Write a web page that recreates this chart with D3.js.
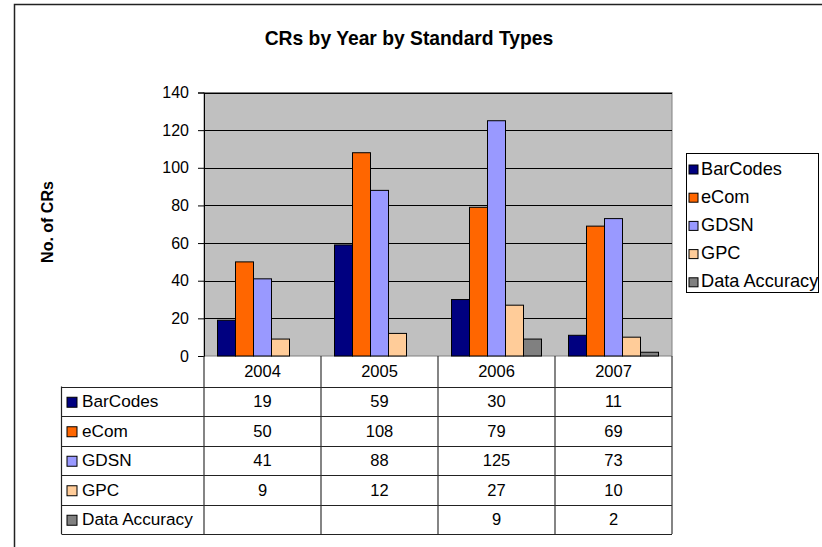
<!DOCTYPE html>
<html>
<head>
<meta charset="utf-8">
<script src="https://cdn.jsdelivr.net/npm/d3@7/dist/d3.min.js"></script>
<style>
  body { margin: 0; background: #fff; }
  svg { display: block; font-family: "Liberation Sans", Arial, sans-serif; }
</style>
</head>
<body>
<div id="chart"></div>
<script>
// Data
const years = ["2004", "2005", "2006", "2007"];
const seriesNames = ["BarCodes", "eCom", "GDSN", "GPC", "Data Accuracy"];
const barCodes = [19, 59, 30, 11];
const eCom = [50, 108, 79, 69];
const gdsn = [41, 88, 125, 73];
const gpc = [9, 12, 27, 10];
const dataAccuracy = [null, null, 9, 2];
const yTicks = [0, 20, 40, 60, 80, 100, 120, 140];
const seriesColors = ["#000080", "#FF6600", "#9999FF", "#FFCC99", "#808080"];

const seriesValues = [barCodes, eCom, gdsn, gpc, dataAccuracy];

const width = 822, height = 547;
const fontSize = 16.5;
const svg = d3.select("#chart").append("svg")
  .attr("width", width)
  .attr("height", height);

// chart border (outer frame)
svg.append("rect")
  .attr("x", 14.5).attr("y", 4.5)
  .attr("width", 830).attr("height", 560)
  .attr("fill", "#fff")
  .attr("stroke", "#222")
  .attr("stroke-width", 1.5);

// title
svg.append("text")
  .attr("x", 409).attr("y", 45)
  .attr("text-anchor", "middle")
  .attr("font-size", 19.3)
  .attr("font-weight", "bold")
  .text("CRs by Year by Standard Types");

// plot area
const plot = { left: 204, right: 672, top: 92.5, bottom: 356 };

const x0 = d3.scaleBand().domain(years).range([plot.left, plot.right]);
const x1 = d3.scaleBand().domain(seriesNames).range([0, x0.bandwidth()])
  .paddingInner(0).paddingOuter(0.75);
const y = d3.scaleLinear().domain([0, 140]).range([plot.bottom, plot.top]);
const color = d3.scaleOrdinal().domain(seriesNames).range(seriesColors);

svg.append("rect")
  .attr("x", plot.left).attr("y", plot.top)
  .attr("width", plot.right - plot.left)
  .attr("height", plot.bottom - plot.top)
  .attr("fill", "#C0C0C0")
  .attr("stroke", "#808080")
  .attr("stroke-width", 1);

// gridlines
svg.append("g")
  .selectAll("line")
  .data(yTicks.filter(t => t > 0))
  .join("line")
  .attr("x1", plot.left).attr("x2", plot.right)
  .attr("y1", d => Math.round(y(d)) + 0.5)
  .attr("y2", d => Math.round(y(d)) + 0.5)
  .attr("stroke", "#000")
  .attr("stroke-width", 1);

// bars
const rows = seriesNames.map((name, i) => ({ name, values: seriesValues[i] }));
const barData = [];
rows.forEach(r => {
  r.values.forEach((v, j) => {
    if (v != null) barData.push({ series: r.name, year: years[j], value: v });
  });
});

svg.append("g")
  .selectAll("rect")
  .data(barData)
  .join("rect")
  .attr("x", d => x0(d.year) + x1(d.series))
  .attr("y", d => y(d.value))
  .attr("width", x1.bandwidth())
  .attr("height", d => y(0) - y(d.value))
  .attr("fill", d => color(d.series))
  .attr("stroke", "#000")
  .attr("stroke-width", 1);

// y axis
const yAxis = svg.append("g")
  .attr("transform", `translate(${plot.left},0)`)
  .call(d3.axisLeft(y).tickValues(yTicks).tickSize(6).tickPadding(9));
yAxis.selectAll("path.domain, g.tick line").attr("stroke", "#000");
yAxis.selectAll(".tick text")
  .attr("font-size", 16)
  .attr("font-family", "Liberation Sans, Arial, sans-serif")
  .attr("fill", "#000");

// y axis title
svg.append("text")
  .attr("transform", "translate(53,222) rotate(-90)")
  .attr("text-anchor", "middle")
  .attr("font-size", 16)
  .attr("font-weight", "bold")
  .text("No. of CRs");

// data table
const tableLeft = 61.5;
const headerTop = plot.bottom;
const rowY = d3.scaleBand().domain(seriesNames).range([386.5, 534]);
const tableBottom = 534;
const table = svg.append("g");

// header cells
table.selectAll("text.year")
  .data(years)
  .join("text")
  .attr("class", "year")
  .attr("x", d => x0(d) + x0.bandwidth() / 2)
  .attr("y", (headerTop + rowY.range()[0]) / 2 + 6)
  .attr("text-anchor", "middle")
  .attr("font-size", fontSize)
  .text(d => d);

// horizontal rules
const hLines = [rowY.range()[0]].concat(seriesNames.map(s => rowY(s) + rowY.bandwidth()));
table.selectAll("line.h")
  .data(hLines)
  .join("line")
  .attr("class", "h")
  .attr("x1", tableLeft).attr("x2", plot.right)
  .attr("y1", d => Math.round(d) + 0.5).attr("y2", d => Math.round(d) + 0.5)
  .attr("stroke", "#222")
  .attr("stroke-width", 1.2);

// vertical rules
const vLines = years.map(yr => x0(yr)).concat([plot.right]);
table.selectAll("line.v")
  .data(vLines)
  .join("line")
  .attr("class", "v")
  .attr("x1", d => d).attr("x2", d => d)
  .attr("y1", headerTop).attr("y2", tableBottom)
  .attr("stroke", "#333")
  .attr("stroke-width", 1.2);
table.append("line")
  .attr("x1", tableLeft).attr("x2", tableLeft)
  .attr("y1", rowY.range()[0]).attr("y2", tableBottom)
  .attr("stroke", "#222")
  .attr("stroke-width", 1.2);

// row labels with keys
const rowG = table.selectAll("g.row")
  .data(rows)
  .join("g")
  .attr("class", "row")
  .attr("transform", d => `translate(0,${rowY(d.name)})`);

rowG.append("rect")
  .attr("x", 67).attr("y", rowY.bandwidth() / 2 - 4)
  .attr("width", 10).attr("height", 10)
  .attr("fill", d => color(d.name))
  .attr("stroke", "#000")
  .attr("stroke-width", 1);

rowG.append("text")
  .attr("x", 82).attr("y", rowY.bandwidth() / 2 + 6)
  .attr("font-size", 17.2)
  .text(d => d.name);

rowG.selectAll("text.val")
  .data(d => d.values.map((v, j) => ({ v, year: years[j] })))
  .join("text")
  .attr("class", "val")
  .attr("x", d => x0(d.year) + x0.bandwidth() / 2)
  .attr("y", rowY.bandwidth() / 2 + 6)
  .attr("text-anchor", "middle")
  .attr("font-size", fontSize)
  .text(d => d.v == null ? "" : d.v);

// legend
const legend = svg.append("g");
legend.append("rect")
  .attr("x", 686.5).attr("y", 153.5)
  .attr("width", 132).attr("height", 139)
  .attr("fill", "#fff")
  .attr("stroke", "#000")
  .attr("stroke-width", 1);

const legendItems = legend.selectAll("g.item")
  .data(seriesNames)
  .join("g")
  .attr("class", "item")
  .attr("transform", (d, i) => `translate(689,${168 + i * 28.2})`);

legendItems.append("rect")
  .attr("x", 0).attr("y", -3)
  .attr("width", 9).attr("height", 9)
  .attr("fill", d => color(d))
  .attr("stroke", "#000")
  .attr("stroke-width", 1);

legendItems.append("text")
  .attr("x", 12).attr("y", 6.5)
  .attr("font-size", 18.2)
  .text(d => d);
</script>
</body>
</html>
